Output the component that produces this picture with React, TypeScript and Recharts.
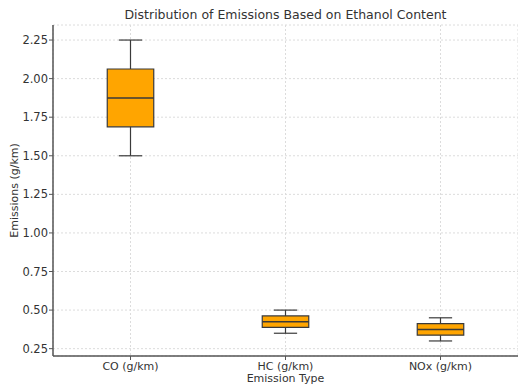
import React from 'react';
import {
  ComposedChart,
  XAxis,
  YAxis,
  CartesianGrid,
  ReferenceArea,
  ReferenceLine,
  Scatter,
} from 'recharts';

// Box plot stats per emission type
const categories = ['CO (g/km)', 'HC (g/km)', 'NOx (g/km)'];
const positions = [1, 2, 3];
const mins = [1.5, 0.35, 0.3];
const q1s = [1.6875, 0.3875, 0.3375];
const medians = [1.875, 0.425, 0.375];
const q3s = [2.0625, 0.4625, 0.4125];
const maxs = [2.25, 0.5, 0.45];
const yTicks = [0.25, 0.5, 0.75, 1.0, 1.25, 1.5, 1.75, 2.0, 2.25];

const FONT = '"DejaVu Sans", sans-serif';
const BOX_HALF = 0.15;
const CAP_HALF = 0.075;
const DARK = '#3a3a3a';

const rows = positions.map((p, i) => ({ pos: p, median: medians[i] }));

const App: React.FC = () => {
  return (
    <div style={{ position: 'absolute', left: 0, top: 0, width: 518, height: 387, background: '#fff', fontFamily: FONT }}>
      <div
        style={{
          position: 'absolute',
          left: 53,
          width: 465,
          top: 7,
          textAlign: 'center',
          fontSize: 12.5,
          color: '#333',
        }}
      >
        Distribution of Emissions Based on Ethanol Content
      </div>
      <ComposedChart
        width={518}
        height={387}
        data={rows}
        margin={{ top: 25, right: 0, bottom: 0, left: 0 }}
      >
        <CartesianGrid stroke="#dcdcdc" strokeDasharray="2 2" />
        <XAxis
          type="number"
          dataKey="pos"
          domain={[0.5, 3.5]}
          ticks={positions}
          tickFormatter={(v: number) => categories[v - 1]}
          height={31}
          tickSize={4}
          tickMargin={2}
          tick={{ fill: '#333', fontSize: 11, fontFamily: FONT }}
          axisLine={{ stroke: '#555', strokeWidth: 1.5 }}
          tickLine={{ stroke: '#555' }}
          allowDataOverflow
          label={{ value: 'Emission Type', position: 'insideBottom', offset: 5, fill: '#333', fontSize: 11, fontFamily: FONT }}
        />
        <YAxis
          type="number"
          domain={[0.2025, 2.3475]}
          ticks={yTicks}
          tickFormatter={(v: number) => v.toFixed(2)}
          width={53}
          tickSize={4}
          tickMargin={1}
          tick={{ fill: '#333', fontSize: 11.5, fontFamily: FONT }}
          axisLine={{ stroke: '#555', strokeWidth: 1.5 }}
          tickLine={{ stroke: '#555' }}
          allowDataOverflow
          label={{ value: 'Emissions (g/km)', angle: -90, position: 'insideLeft', offset: 14, fill: '#333', fontSize: 11, fontFamily: FONT, style: { textAnchor: 'middle' } }}
        />
        {positions.map((p, i) => (
          <ReferenceLine
            key={`wl${i}`}
            segment={[{ x: p, y: mins[i] }, { x: p, y: q1s[i] }]}
            stroke={DARK}
            strokeWidth={1.2}
          />
        ))}
        {positions.map((p, i) => (
          <ReferenceLine
            key={`wh${i}`}
            segment={[{ x: p, y: q3s[i] }, { x: p, y: maxs[i] }]}
            stroke={DARK}
            strokeWidth={1.2}
          />
        ))}
        {positions.map((p, i) => (
          <ReferenceLine
            key={`cl${i}`}
            segment={[{ x: p - CAP_HALF, y: mins[i] }, { x: p + CAP_HALF, y: mins[i] }]}
            stroke={DARK}
            strokeWidth={1.2}
          />
        ))}
        {positions.map((p, i) => (
          <ReferenceLine
            key={`ch${i}`}
            segment={[{ x: p - CAP_HALF, y: maxs[i] }, { x: p + CAP_HALF, y: maxs[i] }]}
            stroke={DARK}
            strokeWidth={1.2}
          />
        ))}
        {positions.map((p, i) => (
          <ReferenceArea
            key={`b${i}`}
            x1={p - BOX_HALF}
            x2={p + BOX_HALF}
            y1={q1s[i]}
            y2={q3s[i]}
            fill="#FFA500"
            fillOpacity={1}
            stroke={DARK}
            strokeWidth={1.2}
          />
        ))}
        {positions.map((p, i) => (
          <ReferenceLine
            key={`m${i}`}
            segment={[{ x: p - BOX_HALF, y: medians[i] }, { x: p + BOX_HALF, y: medians[i] }]}
            stroke={DARK}
            strokeWidth={1.5}
          />
        ))}
        <Scatter dataKey="median" fill="none" shape={() => <g />} isAnimationActive={false} />
      </ComposedChart>
    </div>
  );
};

export default App;
